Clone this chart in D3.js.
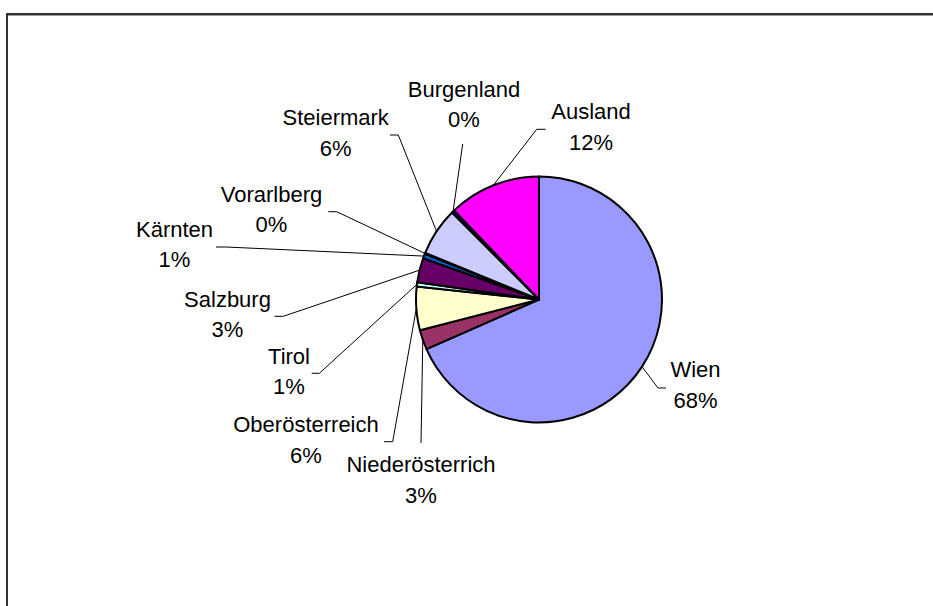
<!DOCTYPE html>
<html>
<head>
<meta charset="utf-8">
<script src="https://cdn.jsdelivr.net/npm/d3@7/dist/d3.min.js"></script>
<style>
  html, body { margin: 0; padding: 0; background: #fff; }
  svg { display: block; }
  text { font-family: "Liberation Sans", Arial, sans-serif; fill: #000; }
</style>
</head>
<body>
<svg id="chart" width="933" height="606"></svg>
<script>
// ---- data ----
const categories = ["Wien", "Niederösterrich", "Oberösterreich", "Tirol", "Salzburg",
                    "Kärnten", "Vorarlberg", "Steiermark", "Burgenland", "Ausland"];
const values = [68.35, 2.6, 5.7, 0.55, 3.2, 0.6, 0.15, 6.3, 0.4, 12.1];
const colors = ["#9999FF", "#993366", "#FFFFCC", "#CCFFFF", "#660066",
                "#0066CC", "#FF8080", "#CCCCFF", "#000080", "#FF00FF"];

// ---- layout (label text centre x, first baseline y, leader elbow, leader end) ----
const labelLayout = [
  { tx: 695.5, ty: 377, pts: [[658, 388], [666, 388]] },
  { tx: 421, ty: 472, pts: [[421, 443]] },
  { tx: 306, ty: 432, pts: [[392.7, 441.7], [384, 441.7]] },
  { tx: 289, ty: 363.5, pts: [[319.3, 373.3], [311.7, 373.3]] },
  { tx: 227.5, ty: 306.5, pts: [[283.3, 316.3], [274.5, 316.3]] },
  { tx: 174.5, ty: 236.7, pts: [[226, 247], [216, 247]] },
  { tx: 271.5, ty: 201.7, pts: [[336.7, 211.7], [328.3, 211.7]] },
  { tx: 335.7, ty: 125, pts: [[398.3, 135], [390, 135]] },
  { tx: 464, ty: 96.7, pts: [[462.7, 144]] },
  { tx: 591, ty: 119.3, pts: [[536.7, 129.3], [545.7, 129.3]] }
];
const cx = 539, cy = 299.5, R = 123;
const fontSize = 22, lineGap = 30.7;

const svg = d3.select("#chart");

// outer chart frame (extends beyond the window on the right and bottom)
svg.append("rect")
  .attr("x", 7).attr("y", 14)
  .attr("width", 1000).attr("height", 700)
  .attr("fill", "none").attr("stroke", "#000").attr("stroke-width", 1.6);
svg.append("line").attr("x1", 8).attr("x2", 933).attr("y1", 15.5).attr("y2", 15.5)
  .attr("stroke", "#999").attr("stroke-width", 1);

const total = d3.sum(values);
const data = categories.map((c, i) => ({ name: c, value: values[i], color: colors[i], layout: labelLayout[i] }));

const pie = d3.pie().value(d => d.value).sort(null);
const arc = d3.arc().innerRadius(0).outerRadius(R);
const edgeArc = d3.arc().innerRadius(R).outerRadius(R);

const g = svg.append("g").attr("transform", `translate(${cx},${cy})`);
const arcs = pie(data);

g.selectAll("path.slice")
  .data(arcs)
  .join("path")
  .attr("class", "slice")
  .attr("d", arc)
  .attr("fill", d => d.data.color)
  .attr("stroke", "#000")
  .attr("stroke-width", 2)
  .attr("stroke-linejoin", "round");

// leader lines
const lineGen = d3.line();
svg.selectAll("path.leader")
  .data(arcs)
  .join("path")
  .attr("class", "leader")
  .attr("d", d => {
    const [ex, ey] = edgeArc.centroid(d);
    return lineGen([[cx + ex, cy + ey], ...d.data.layout.pts]);
  })
  .attr("fill", "none")
  .attr("stroke", "#000")
  .attr("stroke-width", 1);

// labels
const fmt = v => Math.round(v / total * 100) + "%";
const labels = svg.selectAll("text.lbl")
  .data(arcs)
  .join("text")
  .attr("class", "lbl")
  .attr("text-anchor", "middle")
  .attr("font-size", fontSize);
labels.append("tspan")
  .attr("x", d => d.data.layout.tx)
  .attr("y", d => d.data.layout.ty)
  .text(d => d.data.name);
labels.append("tspan")
  .attr("x", d => d.data.layout.tx)
  .attr("y", d => d.data.layout.ty + lineGap)
  .text(d => fmt(d.data.value));
</script>
</body>
</html>
